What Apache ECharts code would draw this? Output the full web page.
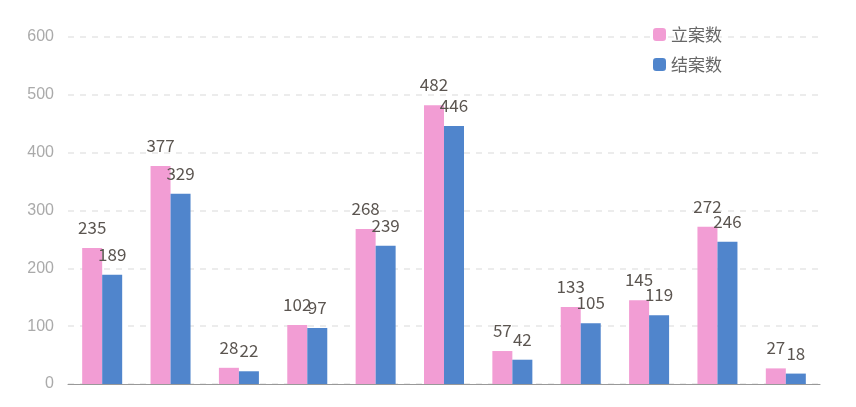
<!DOCTYPE html>
<html><head><meta charset="utf-8">
<script src="https://cdn.jsdelivr.net/npm/echarts@6/dist/echarts.min.js"></script>
<style>html,body{margin:0;padding:0;background:#fff}#c{width:856px;height:407px}</style>
</head><body><div id="c"></div>
<script>
const categories = ['1','2','3','4','5','6','7','8','9','10','11'];
const filed = [235,377,28,102,268,482,57,133,145,272,27];
const closed = [189,329,22,97,239,446,42,105,119,246,18];
const lbl = {show:true,position:'top',color:'#5b5550',fontSize:17,distance:12,fontFamily:'Noto Sans CJK SC'};
const chart = echarts.init(document.getElementById('c'));
chart.setOption({
  animation:false,
  grid:{left:68,right:36,top:37,bottom:23},
  legend:{orient:'vertical',left:648,top:21,itemWidth:13,itemHeight:13,itemGap:13,
    textStyle:{color:'#666',fontSize:17,fontFamily:'Noto Sans CJK SC'},data:['立案数','结案数']},
  xAxis:{type:'category',data:categories,axisLabel:{show:false},axisTick:{show:false},
    axisLine:{lineStyle:{color:'#999'}}},
  yAxis:{type:'value',min:0,max:600,interval:100,axisLine:{show:false},axisTick:{show:false},
    axisLabel:{color:'#aaa',fontSize:16,margin:14},
    splitLine:{lineStyle:{type:[6,6],color:'#e6e6e6',width:1.5}}},
  series:[
    {name:'立案数',type:'bar',data:filed,barWidth:20,barGap:'0%',itemStyle:{color:'#F29DD4'},label:lbl},
    {name:'结案数',type:'bar',data:closed,barWidth:20,itemStyle:{color:'#5085CC'},label:lbl}
  ]
});
</script></body></html>
